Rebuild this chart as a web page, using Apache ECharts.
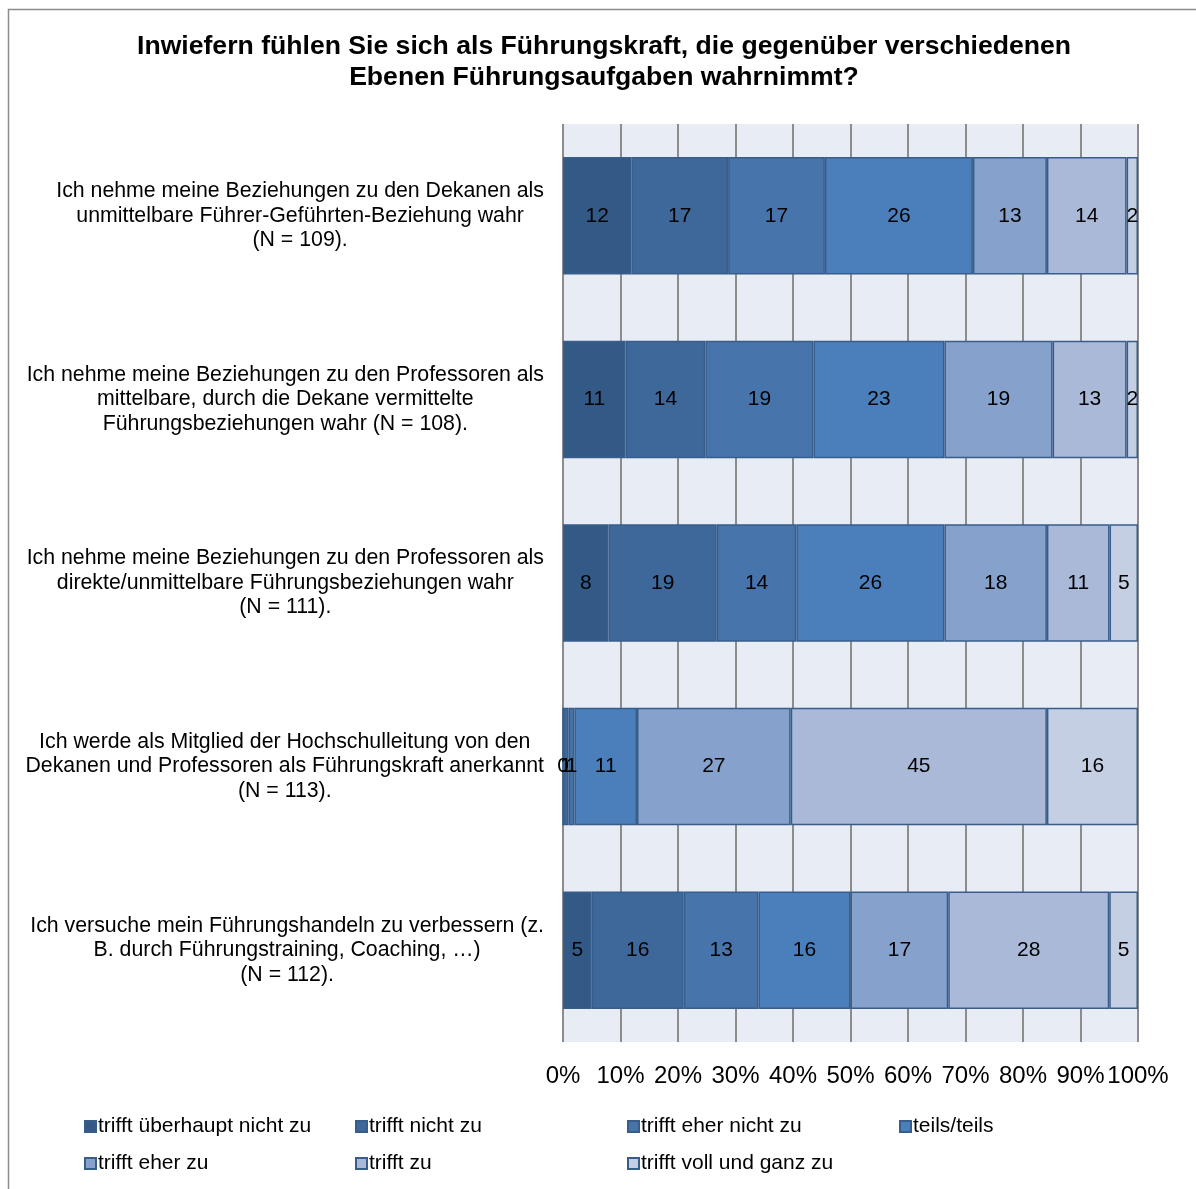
<!DOCTYPE html>
<html>
<head>
<meta charset="utf-8">
<script src="https://cdn.jsdelivr.net/npm/echarts@6/dist/echarts.min.js"></script>
<style>
html,body{margin:0;padding:0;background:#fff;}
#chart{width:1196px;height:1189px;}
</style>
</head>
<body>
<div id="chart"></div>
<script>
const categories = [
  'Ich nehme meine Beziehungen zu den Dekanen als\nunmittelbare Führer-Geführten-Beziehung wahr\n(N = 109).',
  'Ich nehme meine Beziehungen zu den Professoren als\nmittelbare, durch die Dekane vermittelte\nFührungsbeziehungen wahr (N = 108).',
  'Ich nehme meine Beziehungen zu den Professoren als\ndirekte/unmittelbare Führungsbeziehungen wahr\n(N = 111).',
  'Ich werde als Mitglied der Hochschulleitung von den\nDekanen und Professoren als Führungskraft anerkannt\n(N = 113).',
  'Ich versuche mein Führungshandeln zu verbessern (z.\nB. durch Führungstraining, Coaching, …)\n(N = 112).'
];
const seriesNames = ['trifft überhaupt nicht zu','trifft nicht zu','trifft eher nicht zu','teils/teils','trifft eher zu','trifft zu','trifft voll und ganz zu'];
const ueberhauptNicht = [12, 11, 8, 0, 5];
const nichtZu        = [17, 14, 19, 1, 16];
const eherNichtZu    = [17, 19, 14, 1, 13];
const teilsTeils     = [26, 23, 26, 11, 16];
const eherZu         = [13, 19, 18, 27, 17];
const trifftZu       = [14, 13, 11, 45, 28];
const vollUndGanz    = [2, 2, 5, 16, 5];
const tickLabels = ['0%','10%','20%','30%','40%','50%','60%','70%','80%','90%','100%'];

const seriesValues = [ueberhauptNicht, nichtZu, eherNichtZu, teilsTeils, eherZu, trifftZu, vollUndGanz];
const colors = ['#335a87','#3d6899','#4674ab','#4b7fbc','#86a1cb','#aab9d8','#c4cfe3'];
const rowSums = categories.map((c, i) => seriesValues.reduce((s, arr) => s + arr[i], 0));
const FONT = 'Liberation Sans, Arial, sans-serif';

const series = seriesValues.map((vals, k) => ({
  name: seriesNames[k],
  type: 'bar',
  stack: 'total',
  barCategoryGap: '36%',
  data: vals.map((v, i) => v / rowSums[i] * 100),
  itemStyle: { color: colors[k], borderColor: '#385d8a', borderWidth: 1.5 },
  label: {
    show: true, position: 'inside', color: '#000',
    fontFamily: FONT, fontSize: 21,
    formatter: p => String(vals[p.dataIndex])
  },
  emphasis: { disabled: true }
}));

const legendPos = [[84,1116],[355,1116],[627,1116],[899,1116],[84,1153],[355,1153],[627,1153]];
const legends = seriesNames.map((n, k) => ({
  data: [n], left: legendPos[k][0], top: legendPos[k][1],
  itemWidth: 11, itemHeight: 11, padding: 0, icon: 'rect',
  selectedMode: false,
  textStyle: { fontFamily: FONT, fontSize: 21, color: '#000', padding: [0,0,0,-3] }
}));

const chart = echarts.init(document.getElementById('chart'), null, { renderer: 'canvas' });
chart.setOption({
  animation: false,
  color: colors,
  title: {
    text: 'Inwiefern fühlen Sie sich als Führungskraft, die gegenüber verschiedenen\nEbenen Führungsaufgaben wahrnimmt?',
    left: 599, top: 26, textAlign: 'center',
    textStyle: { fontFamily: FONT, fontWeight: 'bold', fontSize: 26.6, lineHeight: 31, color: '#000' }
  },
  graphic: [{
    type: 'rect', shape: { x: 8.5, y: 9.5, width: 1400, height: 1400 },
    style: { fill: 'none', stroke: '#8c8c8c', lineWidth: 1.5 }, silent: true
  }],
  legend: legends,
  grid: { left: 563, right: 58, top: 124, bottom: 147, show: true, backgroundColor: '#e8ecf4', borderWidth: 0 },
  xAxis: {
    type: 'value', min: 0, max: 100, interval: 10,
    axisLine: { show: false }, axisTick: { show: false },
    splitLine: { show: true, lineStyle: { color: '#8c8c8c', width: 2 } },
    axisLabel: {
      color: '#000', fontFamily: FONT, fontSize: 24, margin: 22,
      formatter: v => tickLabels[Math.round(v / 10)]
    }
  },
  yAxis: {
    type: 'category', inverse: true, data: categories,
    axisLine: { show: false }, axisTick: { show: false },
    axisLabel: {
      color: '#000', fontFamily: FONT, fontSize: 21.3, lineHeight: 24.5, margin: 19, align: 'right',
      formatter: v => v.split('\n').map(s => '{c|' + s + '}').join('\n'),
      rich: { c: { align: 'center', fontFamily: FONT, fontSize: 21.3, lineHeight: 24.5, color: '#000' } }
    }
  },
  series: series
});
</script>
</body>
</html>
